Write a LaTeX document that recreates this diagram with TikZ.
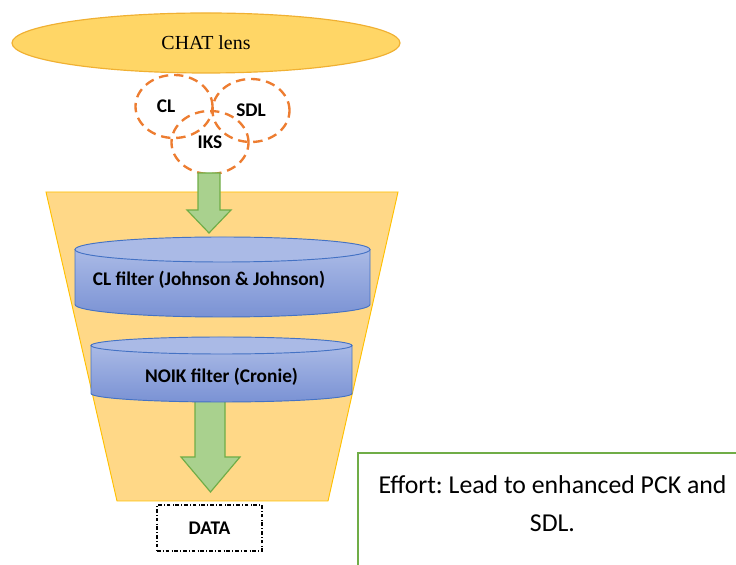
\documentclass[tikz,border=0pt]{standalone}
\usepackage{fontspec}
\setmainfont{Liberation Serif}
\newfontfamily\calibri{Carlito}
\usetikzlibrary{shapes.geometric, positioning}
\frenchspacing
\definecolor{lensfill}{RGB}{255,214,102}
\definecolor{lensline}{RGB}{240,176,50}
\definecolor{funnelfill}{RGB}{255,216,135}
\definecolor{funnelline}{RGB}{255,192,0}
\definecolor{dashorange}{RGB}{237,125,49}
\definecolor{arrowfill}{RGB}{169,209,142}
\definecolor{arrowline}{RGB}{112,173,71}
\definecolor{cyltopc}{RGB}{170,186,230}
\definecolor{cylbotc}{RGB}{122,146,212}
\definecolor{cylline}{RGB}{68,114,196}
\tikzstyle{lens}=[ellipse, draw=lensline, fill=lensfill, line width=1pt,
  minimum width=11.64cm, minimum height=1.8cm, font=\fontsize{17}{18}\selectfont]
\tikzstyle{bubble}=[ellipse, draw=dashorange, line width=2pt,
  dash pattern=on 8pt off 5pt, minimum width=2.31cm, minimum height=1.89cm,
  inner sep=0pt, font=\calibri\bfseries\fontsize{16.5}{18}\selectfont]
\tikzstyle{funnel}=[draw=funnelline, fill=funnelfill, line width=0.8pt]
\tikzstyle{blockarr}=[draw=arrowline, fill=arrowfill, line width=1pt, line join=miter]
\tikzstyle{cylbody}=[draw=cylline, line width=0.8pt, top color=cyltopc, bottom color=cylbotc]
\tikzstyle{cyltop}=[draw=cylline, line width=0.8pt, fill=cyltopc]
\tikzstyle{filtertext}=[font=\calibri\bfseries\fontsize{16.5}{18}\selectfont, text=black]
\tikzstyle{databox}=[rectangle, draw=black, dash dot, line width=0.9pt,
  minimum width=3.15cm, minimum height=1.38cm,
  font=\calibri\bfseries\fontsize{16.5}{18}\selectfont]
\tikzstyle{efforttext}=[align=center, font=\calibri\fontsize{22}{32.3}\selectfont]

\begin{document}
\begin{tikzpicture}[x=0.03cm, y=0.03cm]
  \useasboundingbox (0,0) rectangle (736,564);
  % lens and its three parts
  \node[lens] (chat) at (206,521) {CHAT lens};
  \node[bubble, label={[bubble, draw=none, xshift=-0.24cm]center:CL}] (cl) at (174,457.5) {};
  \node[bubble] (sdl) at (251,453.5) {SDL};
  \node[bubble] (iks) at (210,421.5) {IKS};
  % funnel
  \draw[funnel] (46,372) -- (398,372) -- (328,63) -- (117,63) -- cycle;
  \draw[blockarr] (198,391) -- (198,354) -- (187,354) -- (209,331)
    -- (231,354) -- (220,354) -- (220,391) -- cycle;
  % CL filter
  \draw[cylbody] (75,314.5) -- (75,259.5)
    arc[start angle=180, end angle=360, x radius=4.425cm, y radius=0.375cm]
    -- (370,314.5) -- cycle;
  \draw[cyltop] (222.5,314.5) ellipse [x radius=4.425cm, y radius=0.375cm];
  \node[filtertext] (clfilter) at (209,284) {CL filter (Johnson \& Johnson)};
  % NOIK filter
  \draw[blockarr] (195,175) -- (195,107) -- (181,107) -- (210.5,72)
    -- (240,107) -- (225,107) -- (225,175) -- cycle;
  \draw[cylbody] (91,218.5) -- (91,170.5)
    arc[start angle=180, end angle=360, x radius=3.915cm, y radius=0.255cm]
    -- (352,218.5) -- cycle;
  \draw[cyltop] (221.5,218.5) ellipse [x radius=3.915cm, y radius=0.255cm];
  \node[filtertext] (noikfilter) at (221.5,187) {NOIK filter (Cronie)};
  \node[databox] (data) at (209.5,36) {DATA};
  % effort box
  \draw[draw=arrowline, line width=1.5pt] (358,-20) -- (358,111) -- (760,111);
  \node[efforttext] (effort) at (552.5,60) {Effort: Lead to enhanced PCK and\\SDL.};
\end{tikzpicture}
\end{document}
